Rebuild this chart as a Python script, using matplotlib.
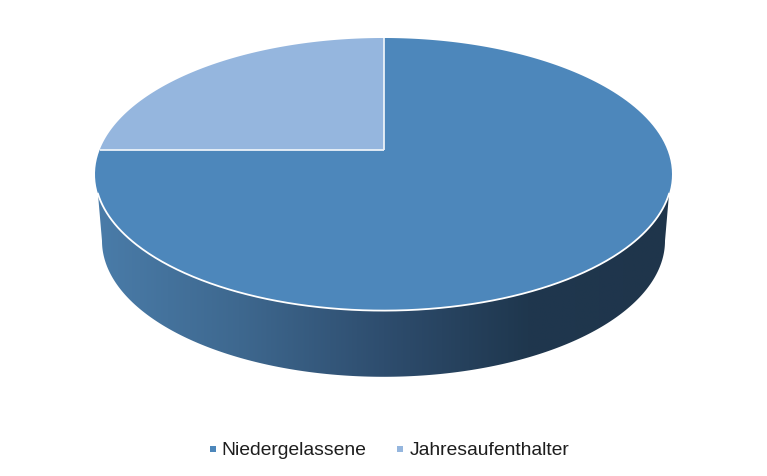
import numpy as np
import matplotlib
matplotlib.use("Agg")
import matplotlib.pyplot as plt
from matplotlib.patches import Polygon, PathPatch, Rectangle
from matplotlib.path import Path
from matplotlib.colors import LinearSegmentedColormap

categories = ["Niedergelassene", "Jahresaufenthalter"]
values = [75, 25]
colors = ["#4D87BB", "#95B6DE"]
side_stops = ["#4A7CA9", "#3E688F", "#2E4D6E", "#1F374E", "#1F354B"]

W, H = 767, 477
fig = plt.figure(figsize=(W / 100, H / 100), dpi=100, facecolor="white")
ax = fig.add_axes([0, 0, 1, 1])
ax.set_xlim(0, W)
ax.set_ylim(H, 0)
ax.axis("off")

cx, cy, rx, ry = 383.5, 175.3, 288.5, 136.3   # top ellipse
ax_, ay_ = 383.8, 150.8                       # perspective apex of the slices
bcx, bcy, brx, bry = 383.5, 241.8, 281.5, 136.0  # bottom ellipse
t0 = 0.143                                     # where the wall meets the top face


def ray_hit(theta):
    """Point on top ellipse along the ray from apex, theta clockwise from up."""
    dx, dy = np.sin(theta), -np.cos(theta)
    a = (dx / rx) ** 2 + (dy / ry) ** 2
    px, py = ax_ - cx, ay_ - cy
    b = 2 * (px * dx / rx ** 2 + py * dy / ry ** 2)
    c = (px / rx) ** 2 + (py / ry) ** 2 - 1
    s = (-b + np.sqrt(b * b - 4 * a * c)) / (2 * a)
    return ax_ + s * dx, ay_ + s * dy


# side wall with a horizontal gradient
t = np.linspace(t0, np.pi - t0, 300)
top_edge = np.c_[cx + rx * np.cos(t), cy + ry * np.sin(t)]
tb = np.linspace(0, np.pi, 300)
bot_edge = np.c_[bcx + brx * np.cos(tb), bcy + bry * np.sin(tb)]
sil = np.vstack([top_edge[:1], bot_edge, top_edge[-1:], top_edge[::-1]])
clip = PathPatch(Path(np.vstack([sil, sil[:1]]), closed=True), fc="none", ec="none", transform=ax.transData)
ax.add_patch(clip)
cmap = LinearSegmentedColormap.from_list("side", side_stops)
im = ax.imshow(np.linspace(0, 1, 512)[None, :], cmap=cmap, aspect="auto",
               extent=(95, 672, 381, 171), zorder=1, interpolation="bilinear")
im.set_clip_path(clip)
ax.set_xlim(0, W)
ax.set_ylim(H, 0)

# top face slices, clockwise from 12 o'clock
total = sum(values)
start = 0.0
for val, col in zip(values, colors):
    ang = np.linspace(start, start + 2 * np.pi * val / total, 300)
    pts = np.array([ray_hit(a) for a in ang])
    pts = np.vstack([[ax_, ay_], pts])
    ax.add_patch(Polygon(pts, closed=True, fc=col, ec="none", zorder=3))
    start += 2 * np.pi * val / total

# light dividing lines between the slices
start = 0.0
for val in values:
    ex, ey = ray_hit(start)
    ax.plot([ax_, ex], [ay_, ey], color="#EAF1F8", lw=1.3, zorder=4, solid_capstyle="butt")
    start += 2 * np.pi * val / total

# white rim between top face and wall
ax.plot(top_edge[:, 0], top_edge[:, 1], color="white", lw=1.3, zorder=4)

# legend
for sx, tx, lab, col in zip((213, 400), (221.5, 410), categories, colors):
    ax.add_patch(Rectangle((sx - 3, 446.8), 6, 6, fc=col, ec="none", zorder=5))
    ax.text(tx, 450.5, lab, fontsize=13.9, family="Liberation Sans", color="#1E1E1E",
            va="center", ha="left", zorder=5)

fig.savefig("out.png", dpi=100, facecolor="white")
